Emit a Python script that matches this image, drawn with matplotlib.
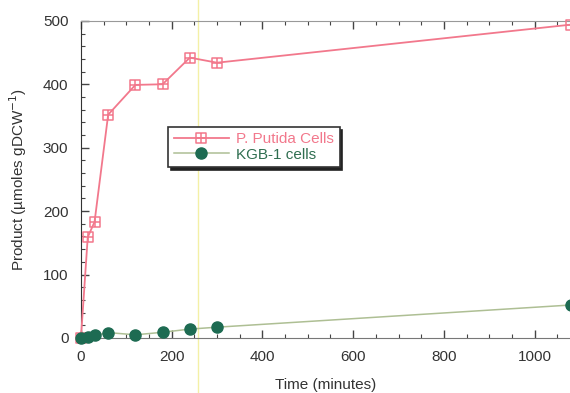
import matplotlib
matplotlib.use("Agg")
import matplotlib.pyplot as plt
from matplotlib.path import Path
from matplotlib.ticker import MultipleLocator

plt.rcParams['font.family'] = ['Liberation Sans', 'DejaVu Sans']

# data
time = [0, 15, 30, 60, 120, 180, 240, 300, 1080]
putida = [0, 159, 183, 352, 399, 400, 442, 434, 494]
kgb1 = [0, 2, 4, 8.5, 5, 9, 14, 17, 52]

pink = '#f2788c'
green_line = '#aebf94'
green_dot = '#1d6b52'

# square with a cross inside it
sq_plus = Path([(-1, -1), (1, -1), (1, 1), (-1, 1), (-1, -1),
                (0, -1), (0, 1), (-1, 0), (1, 0)],
               [Path.MOVETO, Path.LINETO, Path.LINETO, Path.LINETO, Path.CLOSEPOLY,
                Path.MOVETO, Path.LINETO, Path.MOVETO, Path.LINETO])

fig = plt.figure(figsize=(5.7, 3.93), dpi=100)
ax = fig.add_axes([0.142, 0.140, 0.858, 0.807])

ax.axvline(258, ymin=-0.2, ymax=1.1, color='#f4f0a6', lw=1, clip_on=False, zorder=0)

ax.plot(time, putida, color=pink, lw=1.3, marker=sq_plus, ms=7.5, mfc='none',
        mec=pink, mew=1.1, label='P. Putida Cells', clip_on=False, zorder=3)
ax.plot(time, kgb1, color=green_line, lw=1.1, marker='o', ms=8, mfc=green_dot,
        mec=green_dot, label='KGB-1 cells', clip_on=False, zorder=4)

ax.set_xlim(0, 1078)
ax.set_ylim(0, 500)
ax.xaxis.set_major_locator(MultipleLocator(200))
ax.xaxis.set_minor_locator(MultipleLocator(50))
ax.yaxis.set_major_locator(MultipleLocator(100))
ax.yaxis.set_minor_locator(MultipleLocator(20))
ax.tick_params(which='both', direction='in', top=True, right=False,
               colors='#444444', labelcolor='#333333', labelsize=11)
ax.tick_params(which='major', length=6, width=1)
ax.tick_params(which='minor', length=3, width=0.8)
ax.tick_params(axis='x', pad=9)
ax.tick_params(axis='y', pad=9)

ax.spines['right'].set_visible(False)
ax.spines['left'].set_color('#333333')
ax.spines['bottom'].set_color('#777777')
ax.spines['top'].set_color('#999999')

ax.set_xlabel('Time (minutes)', fontsize=11, color='#333333', labelpad=10)
ax.set_ylabel('Product (\u00b5moles gDCW$^{-1}$)', fontsize=11, color='#333333', labelpad=10)

leg = ax.legend(loc='upper left', bbox_to_anchor=(0.163, 0.69), fontsize=11,
                handlelength=3.6, fancybox=False, framealpha=1, edgecolor='#333333',
                shadow={'color': '#222222', 'alpha': 1}, borderpad=0.35,
                labelspacing=0.1, handletextpad=0.5)
leg.get_frame().set_linewidth(1.2)
for txt, c in zip(leg.get_texts(), [pink, '#2f6e50']):
    txt.set_color(c)

fig.savefig('out.png', dpi=100)
